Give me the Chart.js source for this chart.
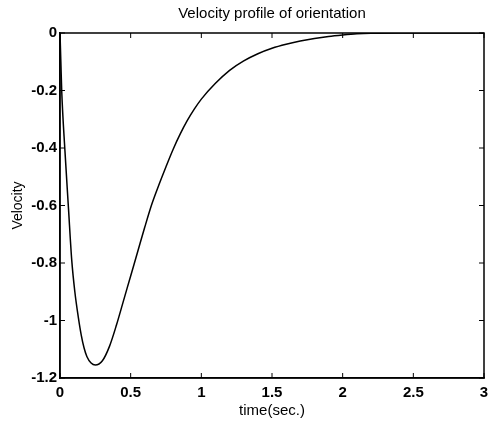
<!DOCTYPE html>
<html>
<head>
<meta charset="utf-8">
<script src="https://cdn.jsdelivr.net/npm/chart.js@4.4.0/dist/chart.umd.min.js"></script>
<style>
  html, body { margin: 0; padding: 0; background: #fff; }
  #wrap { width: 495px; height: 422px; }
</style>
</head>
<body>
<div id="wrap"><canvas id="velocityChart" width="495" height="422"></canvas></div>
<script>
// time samples (sec.) and velocity
var timeValues = [0, 0.006, 0.012, 0.035, 0.06, 0.083, 0.105, 0.13, 0.15, 0.17, 0.19, 0.22, 0.25,
    0.3, 0.35, 0.4, 0.45, 0.5, 0.55, 0.6, 0.65, 0.7, 0.75, 0.8, 0.85, 0.9, 0.95, 1.0,
    1.1, 1.2, 1.3, 1.4, 1.5, 1.6, 1.7, 1.8, 1.9, 2.0, 2.1, 2.2, 2.4, 2.6, 2.8, 3.0];
var velocityValues = [0, -0.1, -0.2, -0.41, -0.61, -0.79, -0.9, -0.99, -1.05, -1.095, -1.125, -1.148, -1.155,
    -1.14, -1.09, -1.015, -0.93, -0.845, -0.76, -0.675, -0.595, -0.528, -0.465, -0.405, -0.352, -0.305, -0.265, -0.23,
    -0.175, -0.13, -0.097, -0.072, -0.053, -0.039, -0.028, -0.019, -0.012, -0.007, -0.003, -0.001, 0, 0, 0, 0];
var xTickStep = 0.5;
var yTickStep = 0.2;

var points = timeValues.map(function (t, i) {
    return { x: t, y: velocityValues[i] };
});

function tickText(value) {
    return String(Math.round(value * 10) / 10); // 0, -0.2, -1, 0.5 ... like matlab
}

// MATLAB-style box with inward tick marks on all four sides
var frameTicks = {
    id: 'frameTicks',
    afterDraw: function (chart) {
        var c = chart.ctx, a = chart.chartArea;
        var xs = chart.scales.x, ys = chart.scales.y;
        c.save();
        c.strokeStyle = '#000';
        c.lineWidth = 1.5;
        c.strokeRect(a.left, a.top, a.right - a.left, a.bottom - a.top);
        c.lineWidth = 1;
        c.beginPath();
        xs.ticks.forEach(function (t) {
            var px = xs.getPixelForValue(t.value);
            c.moveTo(px, a.bottom); c.lineTo(px, a.bottom - 5);
            c.moveTo(px, a.top); c.lineTo(px, a.top + 5);
        });
        ys.ticks.forEach(function (t) {
            var py = ys.getPixelForValue(t.value);
            c.moveTo(a.left, py); c.lineTo(a.left + 5, py);
            c.moveTo(a.right, py); c.lineTo(a.right - 5, py);
        });
        c.stroke();
        c.restore();
    }
};

var ctx = document.getElementById('velocityChart').getContext('2d');
var velocityChart = new Chart(ctx, {
    type: 'line',
    data: {
        datasets: [{
            data: points,
            borderColor: '#000',
            borderWidth: 1.5,
            pointRadius: 0,
            fill: false,
            cubicInterpolationMode: 'monotone'
        }]
    },
    options: {
        responsive: false,
        animation: false,
        layout: { padding: { left: 8, right: 11, top: 0, bottom: 0 } },
        plugins: {
            legend: { display: false },
            tooltip: { enabled: false },
            title: {
                display: true,
                text: 'Velocity profile of orientation',
                color: '#000',
                fullSize: false,
                font: { family: 'Liberation Sans', size: 15, weight: 'normal' },
                padding: { top: 5, bottom: 10 }
            }
        },
        scales: {
            x: {
                type: 'linear',
                min: 0,
                max: 3,
                afterFit: function (scale) { scale.height = 44; },
                ticks: {
                    stepSize: xTickStep,
                    color: '#000',
                    padding: 6,
                    maxRotation: 0,
                    callback: tickText,
                    font: { family: 'Liberation Sans', size: 15, weight: 'bold' }
                },
                grid: { drawOnChartArea: false, drawTicks: false },
                border: { color: '#000', width: 1.5 },
                title: {
                    display: true,
                    text: 'time(sec.)',
                    color: '#000',
                    padding: { top: 2, bottom: 2 },
                    font: { family: 'Liberation Sans', size: 15 }
                }
            },
            y: {
                min: -1.2,
                max: 0,
                afterFit: function (scale) { scale.width = 52; },
                ticks: {
                    stepSize: yTickStep,
                    color: '#000',
                    padding: 3,
                    callback: tickText,
                    font: { family: 'Liberation Sans', size: 15, weight: 'bold' }
                },
                grid: { drawOnChartArea: false, drawTicks: false },
                border: { color: '#000', width: 1.5 },
                title: {
                    display: true,
                    text: 'Velocity',
                    color: '#000',
                    padding: { top: 2, bottom: 2 },
                    font: { family: 'Liberation Sans', size: 14 }
                }
            }
        }
    },
    plugins: [frameTicks]
});
</script>
</body>
</html>
